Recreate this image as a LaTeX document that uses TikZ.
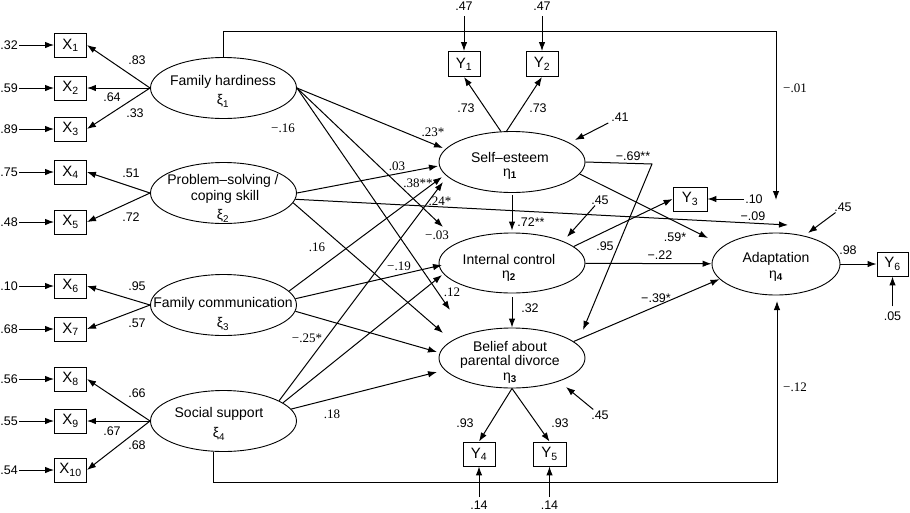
\documentclass[tikz,border=0pt]{standalone}
\usepackage{fontspec}
\setmainfont{Liberation Sans}
\newfontfamily\tms{Liberation Serif}
\usetikzlibrary{arrows.meta,shapes.geometric,calc}
\begin{document}
\begin{tikzpicture}[x=1pt,y=-1pt,
  arr/.style={line width=1pt,-{Latex[length=9pt,width=6.5pt]}},
  ln/.style={line width=1pt},
  obs/.style={draw,line width=0.9pt,minimum width=32pt,minimum height=24pt,inner sep=0pt,font=\fontsize{15}{15}\selectfont},
  lat/.style={draw,ellipse,line width=0.9pt,minimum width=146pt,minimum height=61pt,inner sep=0pt},
  ltxt/.style={font=\fontsize{14}{16}\selectfont,inner sep=0pt},
  grk/.style={font=\fontsize{14}{14}\selectfont,inner sep=0pt},
  la/.style={font=\fontsize{12.5}{13}\selectfont,inner sep=1pt},
  lt/.style={font=\tms\fontsize{13}{13}\selectfont,inner sep=1pt},
]
\useasboundingbox (0,0) rectangle (910,512);

% ---------- observed X ----------
\node[obs] (X1) at (70.5,45) {X\textsubscript{1}};
\node[obs] (X2) at (70.5,88) {X\textsubscript{2}};
\node[obs] (X3) at (70.5,129) {X\textsubscript{3}};
\node[obs] (X4) at (70.5,172) {X\textsubscript{4}};
\node[obs] (X5) at (70.5,222) {X\textsubscript{5}};
\node[obs] (X6) at (70.5,286) {X\textsubscript{6}};
\node[obs] (X7) at (70.5,329) {X\textsubscript{7}};
\node[obs] (X8) at (70.5,379) {X\textsubscript{8}};
\node[obs] (X9) at (70.5,421) {X\textsubscript{9}};
\node[obs] (X10) at (70.5,470) {X\textsubscript{10}};

% errors of X
\node[la,anchor=east] (eX1) at (19,45) {.32};
\node[la,anchor=east] (eX2) at (19,88) {.59};
\node[la,anchor=east] (eX3) at (19,129) {.89};
\node[la,anchor=east] (eX4) at (19,172) {.75};
\node[la,anchor=east] (eX5) at (19,222) {.48};
\node[la,anchor=east] (eX6) at (19,286) {.10};
\node[la,anchor=east] (eX7) at (19,329) {.68};
\node[la,anchor=east] (eX8) at (19,379) {.56};
\node[la,anchor=east] (eX9) at (19,421) {.55};
\node[la,anchor=east] (eX10) at (19,470) {.54};
\foreach \i in {1,...,10} \draw[arr] (eX\i) -- (X\i);

% ---------- latent exogenous ----------
\node[lat] (FH) at (223.5,88) {};
\node[lat] (PS) at (223.5,193) {};
\node[lat] (FC) at (223.5,305) {};
\node[lat] (SS) at (223.5,421) {};
\node[ltxt] (tFH) at (223,82) {Family hardiness};
\node[grk] (gFH) at (223,101) {ξ\textsubscript{1}};
\node[ltxt] (tPS1) at (223,181) {Problem–solving /};
\node[ltxt] (tPS2) at (225,197) {coping skill};
\node[grk] (gPS) at (223,216) {ξ\textsubscript{2}};
\node[ltxt] (tFC) at (223,304) {Family communication};
\node[grk] (gFC) at (223,324) {ξ\textsubscript{3}};
\node[ltxt] (tSS) at (219,414) {Social support};
\node[grk] (gSS) at (219,434) {ξ\textsubscript{4}};

% loadings
\draw[arr] (FH.west) -- (X1.east);
\draw[arr] (FH.west) -- (X2.east);
\draw[arr] (FH.west) -- (X3.east);
\draw[arr] (PS.west) -- (X4.east);
\draw[arr] (PS.west) -- (X5.east);
\draw[arr] (FC.west) -- (X6.east);
\draw[arr] (FC.west) -- (X7.east);
\draw[arr] (SS.west) -- (X8.east);
\draw[arr] (SS.west) -- (X9.east);
\draw[arr] (SS.west) -- (X10.east);
\node[la] (l83) at (137,60) {.83};
\node[la] (l64) at (112,97) {.64};
\node[la] (l33) at (135,113) {.33};
\node[la] (l51) at (131,173) {.51};
\node[la] (l72) at (131,217) {.72};
\node[la] (l95) at (137,286) {.95};
\node[la] (l57) at (137,323) {.57};
\node[la] (l66) at (137,393) {.66};
\node[la] (l67) at (112,431) {.67};
\node[la] (l68) at (137,445) {.68};

% ---------- latent endogenous ----------
\node[lat] (SE) at (512,162) {};
\node[lat,minimum height=60pt] (IC) at (512,263) {};
\node[lat,minimum height=60pt] (BE) at (512,358) {};
\node[lat,minimum width=128pt,minimum height=62pt] (AD) at (776,264) {};
\node[ltxt] (tSE) at (510,157) {Self–esteem};
\node[grk] (gSE) at (510,174) {η\textsubscript{\textbf{1}}};
\node[ltxt] (tIC) at (509,259) {Internal control};
\node[grk] (gIC) at (509,276) {η\textsubscript{\textbf{2}}};
\node[ltxt] (tBE1) at (510,346) {Belief about};
\node[ltxt] (tBE2) at (510,362) {parental divorce};
\node[grk] (gBE) at (510,378) {η\textsubscript{\textbf{3}}};
\node[ltxt] (tAD) at (776,259) {Adaptation};
\node[grk] (gAD) at (776,276) {η\textsubscript{\textbf{4}}};

% ---------- observed Y ----------
\node[obs,minimum height=25pt] (Y1) at (464,64) {Y\textsubscript{1}};
\node[obs,minimum height=25pt] (Y2) at (542,64) {Y\textsubscript{2}};
\node[obs,minimum width=34pt] (Y3) at (690,199) {Y\textsubscript{3}};
\node[obs] (Y4) at (479,454) {Y\textsubscript{4}};
\node[obs,minimum width=33pt] (Y5) at (549.5,454) {Y\textsubscript{5}};
\node[obs,minimum width=31pt] (Y6) at (892.5,264) {Y\textsubscript{6}};

\node[la] (eY1) at (464,6.5) {.47};
\node[la] (eY2) at (542,6.5) {.47};
\node[la] (eY3) at (754,199) {.10};
\node[la] (eY4) at (479,505) {.14};
\node[la] (eY5) at (549.5,505) {.14};
\node[la] (eY6) at (892.5,316) {.05};
\draw[arr,shorten <=4pt] (eY1) -- (Y1);
\draw[arr,shorten <=4pt] (eY2) -- (Y2);
\draw[arr] (eY3) -- (Y3);
\draw[arr,shorten <=3pt] (eY4) -- (Y4);
\draw[arr,shorten <=3pt] (eY5) -- (Y5);
\draw[arr,shorten <=4pt] (eY6) -- (Y6);

\draw[arr] (SE.110) -- (Y1.south);
\draw[arr] (SE.100) -- (Y2.south);
\draw[arr] (BE.south) -- (Y4.north);
\draw[arr] (BE.south) -- (Y5.north);
\node[la] (l73a) at (466,108) {.73};
\node[la] (l73b) at (538,108) {.73};
\node[la] (l93a) at (465,423) {.93};
\node[la] (l93b) at (560,423) {.93};

% ---------- disturbances ----------
\node[la] (d1) at (620,117) {.41};
\node[la] (d2) at (600,200) {.45};
\node[la] (d3) at (600,415) {.45};
\node[la] (d4) at (843,207) {.45};
\coordinate (td1) at (575,140);
\coordinate (td2) at (567,237);
\coordinate (td3) at (566,387);
\coordinate (td4) at (808,233);
\draw[arr,shorten <=2pt] (d1) -- (td1);
\draw[arr] (d2) -- (td2);
\draw[arr] (d3) -- (td3);
\draw[arr] (d4) -- (td4);

% ---------- structural paths: tips ----------
\coordinate (tSE1) at (443,148);
\coordinate (tSE2) at (438,166);
\coordinate (tSE3) at (442,177);
\coordinate (tSE4) at (443,182);
\coordinate (tIC1) at (443,227);
\coordinate (tIC2) at (442,265);
\coordinate (tIC3) at (442,275);
\coordinate (tBE1) at (450,310);
\coordinate (tBE2) at (443,333);
\coordinate (tBE3) at (437,352);
\coordinate (tBE4) at (437,372);
\coordinate (tBE5) at (583,330);
\coordinate (c69) at (652,164);
\coordinate (tAD3) at (708,238);
\coordinate (tAD4) at (788,225);
\coordinate (cTR) at (776,31);
\coordinate (tAD1) at (776,200);
\coordinate (cBR) at (777,482);
\coordinate (tAD2) at (777,301);

% from family hardiness
\draw[arr] (FH.east) -- (tSE1);
\draw[arr] (FH.east) -- (tIC1);
\draw[arr] (FH.east) -- (tBE1);
% from problem solving
\draw[arr] (PS.east) -- (tSE2);
\draw[arr] (PS.-5) -- (tAD4);
\draw[arr] (PS.-8) -- (tBE2);
% from family communication
\draw[arr] (FC.12) -- (tSE3);
\draw[arr] (FC.5) -- (tIC2);
\draw[arr] (FC.-5) -- (tBE3);
% from social support
\draw[arr] (SS.20) -- (tSE4);
\draw[arr] (SS.17) -- (tIC3);
\draw[arr] (SS.10) -- (tBE4);
% long connectors
\draw[arr] (FH.north) |- (cTR) -- (tAD1);
\draw[arr] (SS.252) |- (cBR) -- (tAD2);
% among endogenous
\draw[arr,shorten <=2pt,shorten >=2pt] (SE.south) -- (IC.north);
\draw[arr,shorten <=4pt] (IC.south) -- (BE.north);
\draw[arr] (SE.east) -- (c69) -- (tBE5);
\draw[arr] (SE.-10) -- (tAD3);
\draw[arr] (IC.15) -- (Y3.west);
\draw[arr] (IC) -- (AD);
\draw[arr] (BE.15) -- (AD.195);
\draw[arr] (AD.east) -- (Y6.west);

% ---------- path labels ----------
\node[lt] (p1) at (283,128) {−.16};
\node[lt] (p2) at (433,132) {.23*};
\node[lt] (p3) at (397,166) {.03};
\node[lt] (p4) at (418,183) {.38**};
\node[lt] (p5) at (440,201) {.24*};
\node[lt] (p6) at (437,235) {−.03};
\node[lt] (p7) at (317,247) {.16};
\node[lt] (p8) at (399,266) {−.19};
\node[lt] (p9) at (452,292) {.12};
\node[lt] (p10) at (307,338) {−.25*};
\node[lt] (p11) at (332,414) {.18};
\node[lt] (p12) at (795,88) {−.01};
\node[lt] (p13) at (795,387) {−.12};
\node[la] (q1) at (633,156) {−.69**};
\node[la] (q2) at (531,222) {.72**};
\node[la] (q3) at (605,246) {.95};
\node[la] (q4) at (675,237) {.59*};
\node[la] (q5) at (753,216) {−.09};
\node[la] (q6) at (660,255) {−.22};
\node[la] (q7) at (656,298) {−.39*};
\node[la] (q8) at (530,308) {.32};
\node[la] (q9) at (848,250) {.98};
\end{tikzpicture}
\end{document}
